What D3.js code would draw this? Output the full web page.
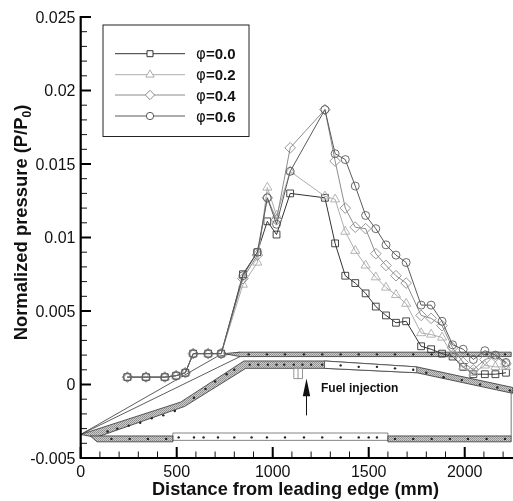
<!DOCTYPE html>
<meta charset="utf-8">
<script src="https://d3js.org/d3.v7.min.js"></script>
<style>
  body { margin: 0; background: #fff; }
  svg { filter: blur(0.35px); }
  text { font-family: "Liberation Sans", Arial, sans-serif; fill: #111; }
</style>
<svg id="my_dataviz" width="513" height="501"></svg>
<script>
// Pressure taps (mm from leading edge)
var stations = [243,340,438,497,545,586,664,732,845,920,972,1020,1091,1272,1325,1378,1430,1484,1537,1590,1642,1695,1773,1825,1882,1937,1992,2045,2105,2160,2215];

var phi00 = [.0005,.0005,.0005,.0006,.0008,.0021,.0021,.0021,.0075,.009,.0111,.0102,.013,.0127,.0096,.0074,.0069,.0062,.0053,.0047,.0042,.0043,.0026,.0024,.0021,.0019,.0012,.0007,.0007,.0007,.0008];
var phi02 = [.0005,.0005,.0005,.0006,.0008,.0021,.0021,.0021,.0068,.0083,.0134,.0115,.0145,.0128,.0126,.0104,.0091,.0081,.0073,.0066,.0061,.0055,.0035,.0034,.0032,.002,.0012,.0008,.0013,.0012,.0012];
var phi04 = [.0005,.0005,.0005,.0006,.0008,.0021,.0021,.0021,.0072,.0088,.0127,.0112,.0161,.0187,.0152,.012,.0107,.0106,.0089,.0081,.0074,.0069,.0047,.0045,.004,.0025,.0015,.001,.0017,.0019,.0014];
var phi06 = [.0005,.0005,.0005,.0006,.0008,.0021,.0021,.0021,.0074,.009,.0127,.0109,.0145,.0187,.0157,.0153,.0135,.0115,.0106,.0095,.0088,.0083,.0054,.0054,.0043,.0027,.0024,.0017,.0023,.002,.0015];

var seriesNames = ["0.0","0.2","0.4","0.6"];
var seriesValues = [phi00, phi02, phi04, phi06];
var seriesColors = ["#333333","#adadad","#8c8c8c","#5a5a5a"];
var seriesSymbols = [d3.symbolSquare, d3.symbolTriangle, d3.symbolDiamond2, d3.symbolCircle];

var xTicks = [0,500,1000,1500,2000];
var yTicks = [-0.005,0,0.005,0.01,0.015,0.02,0.025];
var yLabels = ["-0.005","0","0.005","0.01","0.015","0.02","0.025"];

// Engine outline behind the curves
var cowlBand = [[745,.0021],[830,.0022],[2242,.0022],[2242,.0019],[830,.0019]];
var cowlLine = [[0,-.0034],[710,.0019],[830,.0022]];
var cowlLine2 = [[0,-.0034],[830,.0019]];
var rampBand = [[0,-.0034],[520,-.0012],[850,.0016],[1270,.0016],[1750,.0012],[2250,-.0002],[2250,-.0006],[1750,.0008],[1270,.0011],[860,.0011],[540,-.0015],[80,-.0036]];
var rampWhite = [[1270,.0016],[1750,.0012],[1750,.0008],[1270,.0011]];
var floorBandA = [[50,-.0035],[480,-.0035],[480,-.0039],[85,-.0039]];
var floorBandB = [[1600,-.0035],[2242,-.0035],[2242,-.0039],[1600,-.0039]];
var floorBox = [[480,-.0033],[1600,-.0033],[1600,-.0038],[480,-.0038]];
var backWall = [[2242,-.0004],[2242,-.0035]];
var injector = [[1110,.0011],[1155,.0011],[1155,.0004],[1110,.0004]];
var injectorMid = [[1132,.0011],[1132,.0004]];
var wallDots = [
  [875,.00205],[970,.00205],[1064,.00205],[1163,.00205],[1258,.00205],[1354,.00205],[1448,.00205],[1543,.00205],[1637,.00205],[1732,.00205],[1828,.00205],[1923,.00205],[2017,.00205],[2114,.00205],[2210,.00205],
  [140,-.0032],[190,-.003],[250,-.0028],[310,-.0026],[370,-.0023],[430,-.0021],[490,-.0018],[590,-.0009],[650,-.0003],[700,.0002],[760,.0007],[800,.001],
  [880,.00135],[925,.00135],[975,.00135],[1020,.00135],[1060,.00135],[1110,.00135],[1155,.00135],[1200,.00135],[1258,.00135],[1354,.0013],[1448,.0012],[1543,.0012],[1637,.0011],[1732,.001],[1800,.0008],[1890,.0005],[1985,.0003],[2080,0],[2170,-.0002],[2235,-.0004],
  [160,-.0037],[255,-.0037],[350,-.0037],[445,-.0037],[510,-.0036],[590,-.0036],[640,-.0036],[715,-.0036],[800,-.0036],[890,-.0036],[970,-.0036],[1064,-.0036],[1163,-.0036],[1258,-.0036],[1354,-.0036],[1448,-.0036],[1500,-.0036],[1543,-.0036],[1637,-.0037],[1732,-.0037],[1828,-.0037],[1923,-.0037],[2017,-.0037],[2114,-.0037],[2210,-.0037]
];

var svg = d3.select("svg");

// fine hatch for the solid walls
var hatch = svg.append("defs").append("pattern")
  .attr("id","hatch").attr("width",2).attr("height",2).attr("patternUnits","userSpaceOnUse");
hatch.append("rect").attr("width",2).attr("height",2).attr("fill","#cccccc");
hatch.append("rect").attr("width",1).attr("height",1).attr("fill","#8c8c8c");
hatch.append("rect").attr("x",1).attr("y",1).attr("width",1).attr("height",1).attr("fill","#9a9a9a");

var x = d3.scaleLinear().domain([0,2250]).range([80.7,512.7]);
var y = d3.scaleLinear().domain([-0.005,0.025]).range([458,17]);

var wall = d3.line().x(function(d){ return x(d[0]) }).y(function(d){ return y(d[1]) });

// Schematic
function outline(pts, fill, stroke, close) {
  svg.append("path")
    .attr("d", wall(pts) + (close ? "Z" : ""))
    .attr("fill", fill)
    .attr("stroke", stroke)
    .attr("stroke-width", 0.8);
}
outline(cowlLine, "none", "#333", false);
outline(cowlLine2, "none", "#333", false);
outline(cowlBand, "url(#hatch)", "#333", true);
outline(rampBand, "url(#hatch)", "#333", true);
outline(rampWhite, "#fff", "#444", true);
outline(floorBox, "#fff", "#666", true);
outline(floorBandA, "url(#hatch)", "#333", true);
outline(floorBandB, "url(#hatch)", "#333", true);
outline(backWall, "none", "#555", false);
outline(injector, "#fff", "#777", true);
outline(injectorMid, "none", "#777", false);

svg.selectAll(".dot").data(wallDots).enter().append("circle")
  .attr("class","dot")
  .attr("cx", function(d){ return x(d[0]) })
  .attr("cy", function(d){ return y(d[1]) })
  .attr("r", 1.2)
  .attr("fill", "#222");

// Injection arrow
svg.append("line").attr("x1",x(1176)).attr("x2",x(1176)).attr("y1",y(-0.0021)).attr("y2",y(-0.0006))
  .attr("stroke","#111").attr("stroke-width",1);
svg.append("path")
  .attr("d","M"+x(1176)+","+y(0.0004)+"L"+(x(1176)+3.7)+","+y(-0.0008)+"L"+(x(1176)-3.7)+","+y(-0.0008)+"Z")
  .attr("fill","#111");
svg.append("text").attr("x",321).attr("y",392)
  .attr("font-size",12).attr("font-weight","bold").text("Fuel injection");

// Axes
var xMinor = d3.range(0,2300,100);
var yMinor = d3.range(-0.005,0.0251,0.001);
svg.selectAll(".xm").data(xMinor).enter().append("line")
  .attr("x1",function(d){return x(d)}).attr("x2",function(d){return x(d)})
  .attr("y1",458).attr("y2",451.5).attr("stroke","#111").attr("stroke-width",1);
svg.selectAll(".ym").data(yMinor).enter().append("line")
  .attr("y1",function(d){return y(d)}).attr("y2",function(d){return y(d)})
  .attr("x1",80.7).attr("x2",87).attr("stroke","#111").attr("stroke-width",1);

svg.append("line").attr("x1",80.7).attr("x2",513).attr("y1",458).attr("y2",458).attr("stroke","#000").attr("stroke-width",2.2);
svg.append("line").attr("x1",80.7).attr("x2",80.7).attr("y1",16).attr("y2",459).attr("stroke","#000").attr("stroke-width",2.2);

svg.selectAll(".xt").data(xTicks).enter().append("line")
  .attr("x1",function(d){return x(d)}).attr("x2",function(d){return x(d)})
  .attr("y1",458).attr("y2",447).attr("stroke","#000").attr("stroke-width",2);
svg.selectAll(".yt").data(yTicks).enter().append("line")
  .attr("y1",function(d){return y(d)}).attr("y2",function(d){return y(d)})
  .attr("x1",80.7).attr("x2",91).attr("stroke","#000").attr("stroke-width",2);

svg.selectAll(".xl").data(xTicks).enter().append("text")
  .attr("x",function(d){return x(d)}).attr("y",476.5)
  .attr("text-anchor","middle").attr("font-size",16)
  .text(function(d){return d});
svg.selectAll(".yl").data(yTicks).enter().append("text")
  .attr("x",75.5).attr("y",function(d){return y(d)+5.5})
  .attr("text-anchor","end").attr("font-size",16)
  .text(function(d,i){return yLabels[i]});

svg.append("text").attr("x",295.5).attr("y",495)
  .attr("text-anchor","middle").attr("font-size",18.2).attr("font-weight","bold")
  .text("Distance from leading edge (mm)");

var yTitle = svg.append("text")
  .attr("transform","translate(27,222.5) rotate(-90)")
  .attr("text-anchor","middle").attr("font-size",18.4).attr("font-weight","bold");
yTitle.append("tspan").text("Normalized pressure (P/P");
yTitle.append("tspan").attr("font-size",12).attr("dy",4).text("0");
yTitle.append("tspan").attr("dy",-4).text(")");

// Curves
var line = d3.line()
  .x(function(d){ return x(d.x) })
  .y(function(d){ return y(d.v) });

var symbolSizes = [46, 36, 72, 50];
var legendSizes = [36, 30, 56, 42];

seriesValues.forEach(function(vals, i){
  var pts = stations.map(function(s, j){ return {x: s, v: vals[j]} });
  var g = svg.append("g");
  g.append("path")
    .attr("d", line(pts))
    .attr("fill","none")
    .attr("stroke", seriesColors[i])
    .attr("stroke-width",1);
  g.selectAll("path.m").data(pts).enter().append("path")
    .attr("class","m")
    .attr("transform", function(d){ return "translate("+x(d.x)+","+y(d.v)+")" })
    .attr("d", d3.symbol().type(seriesSymbols[i]).size(symbolSizes[i]))
    .attr("fill","none")
    .attr("stroke", seriesColors[i])
    .attr("stroke-width",0.9);
});

// Legend
var legend = svg.append("g");
legend.append("rect").attr("x",103).attr("y",25).attr("width",146).attr("height",111.5)
  .attr("fill","#fff").attr("stroke","#222").attr("stroke-width",1);
seriesNames.forEach(function(name, i){
  var ly = [53.7,74.7,95,116][i];
  legend.append("line").attr("x1",115).attr("x2",185).attr("y1",ly).attr("y2",ly)
    .attr("stroke",seriesColors[i]).attr("stroke-width",1);
  legend.append("path").attr("transform","translate(150,"+ly+")")
    .attr("d", d3.symbol().type(seriesSymbols[i]).size(legendSizes[i]))
    .attr("fill", "#fff")
    .attr("stroke",seriesColors[i]);
  var t = legend.append("text").attr("x",196).attr("y",ly+5.5).attr("font-size",15);
  t.append("tspan").attr("font-family","DejaVu Sans").attr("font-weight","normal").text("\u03c6");
  t.append("tspan").attr("font-weight","bold").text("="+name);
});
</script>
